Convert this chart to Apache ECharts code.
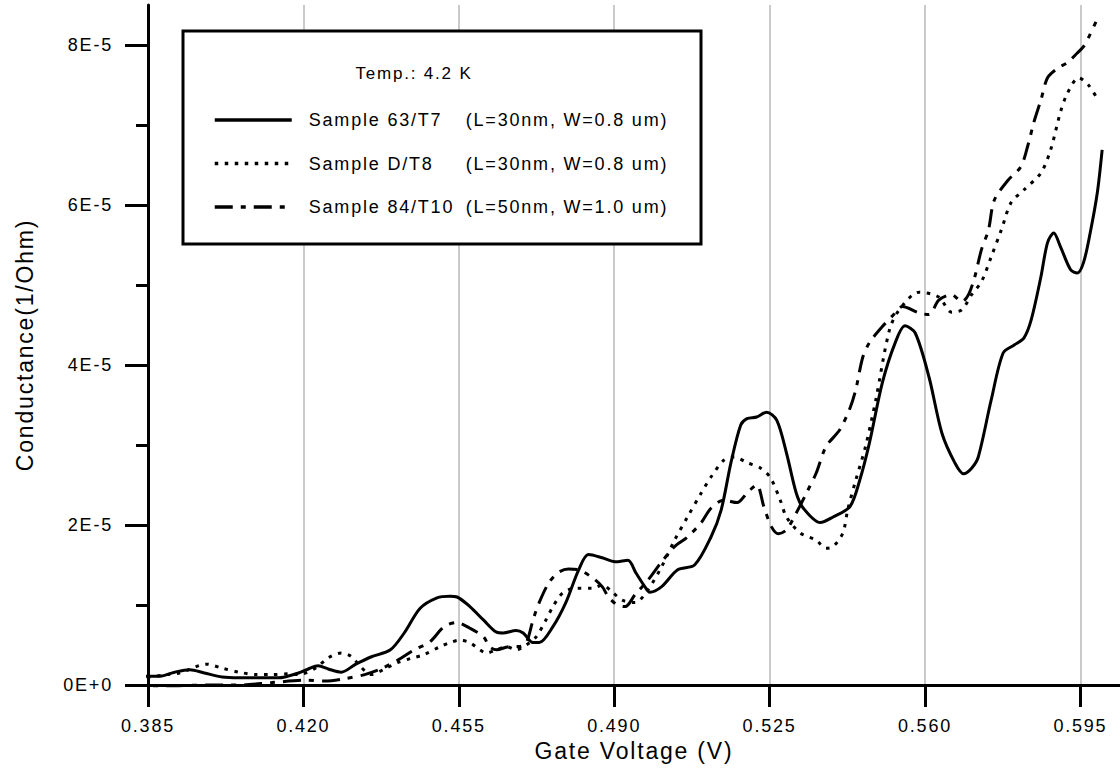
<!DOCTYPE html>
<html>
<head>
<meta charset="utf-8">
<script src="https://cdn.jsdelivr.net/npm/echarts@6/dist/echarts.min.js"></script>
<style>
html,body{margin:0;padding:0;background:#fff}
#chart{width:1120px;height:774px}
#chart text{letter-spacing:1.8px}
</style>
</head>
<body>
<div id="chart"></div>
<script>
// gate voltage (V) , conductance (in units of 1E-5 1/Ohm)
const sample63 = [[0.3803,0.11],[0.3850,0.11],[0.3877,0.11],[0.3910,0.16],[0.3944,0.19],[0.3977,0.15],[0.4017,0.10],[0.4055,0.09],[0.4093,0.09],[0.4144,0.09],[0.4189,0.15],[0.4211,0.20],[0.4233,0.24],[0.4256,0.20],[0.4285,0.16],[0.4318,0.26],[0.4352,0.35],[0.4396,0.44],[0.4427,0.65],[0.4463,0.96],[0.4501,1.09],[0.4530,1.11],[0.4546,1.10],[0.4575,0.98],[0.4606,0.81],[0.4635,0.66],[0.4650,0.65],[0.4679,0.68],[0.4695,0.65],[0.4717,0.53],[0.4731,0.53],[0.4762,0.73],[0.4791,1.03],[0.4820,1.44],[0.4842,1.63],[0.4873,1.59],[0.4902,1.54],[0.4931,1.56],[0.4949,1.40],[0.4969,1.23],[0.4980,1.16],[0.5007,1.23],[0.5043,1.44],[0.5081,1.50],[0.5118,1.85],[0.5141,2.19],[0.5163,2.78],[0.5185,3.25],[0.5199,3.33],[0.5221,3.35],[0.5243,3.41],[0.5266,3.31],[0.5288,2.90],[0.5310,2.40],[0.5326,2.21],[0.5364,2.03],[0.5393,2.10],[0.5431,2.23],[0.5453,2.56],[0.5475,3.03],[0.5504,3.78],[0.5533,4.28],[0.5555,4.49],[0.5578,4.40],[0.5609,3.85],[0.5638,3.15],[0.5667,2.78],[0.5687,2.64],[0.5705,2.71],[0.5720,2.85],[0.5749,3.56],[0.5776,4.15],[0.5801,4.25],[0.5823,4.34],[0.5839,4.56],[0.5861,5.10],[0.5876,5.53],[0.5890,5.65],[0.5905,5.48],[0.5928,5.19],[0.5943,5.15],[0.5957,5.28],[0.5972,5.65],[0.5988,6.15],[0.5999,6.69]]
const sampleD8 = [[0.3803,0.11],[0.3832,0.09],[0.3892,0.13],[0.3921,0.15],[0.3982,0.26],[0.4017,0.21],[0.4055,0.16],[0.4093,0.13],[0.4129,0.13],[0.4167,0.14],[0.4189,0.13],[0.4227,0.21],[0.4256,0.34],[0.4285,0.40],[0.4307,0.36],[0.4327,0.24],[0.4352,0.13],[0.4383,0.20],[0.4412,0.28],[0.4441,0.33],[0.4472,0.38],[0.4508,0.48],[0.4530,0.53],[0.4552,0.56],[0.4575,0.53],[0.4597,0.44],[0.4612,0.40],[0.4635,0.44],[0.4657,0.48],[0.4679,0.44],[0.4702,0.50],[0.4724,0.60],[0.4746,0.81],[0.4762,0.98],[0.4784,1.15],[0.4813,1.21],[0.4851,1.21],[0.4873,1.25],[0.4896,1.16],[0.4918,1.06],[0.4947,1.03],[0.4976,1.19],[0.5007,1.48],[0.5036,1.81],[0.5065,2.10],[0.5096,2.40],[0.5118,2.60],[0.5147,2.81],[0.5170,2.85],[0.5199,2.78],[0.5230,2.71],[0.5252,2.59],[0.5274,2.31],[0.5288,2.10],[0.5319,1.90],[0.5355,1.81],[0.5377,1.71],[0.5393,1.73],[0.5415,1.90],[0.5426,2.19],[0.5444,2.56],[0.5466,2.98],[0.5489,3.56],[0.5520,4.44],[0.5542,4.69],[0.5587,4.91],[0.5631,4.85],[0.5660,4.66],[0.5683,4.69],[0.5705,4.88],[0.5727,5.04],[0.5749,5.35],[0.5772,5.69],[0.5794,6.03],[0.5823,6.19],[0.5861,6.40],[0.5883,6.69],[0.5905,7.16],[0.5921,7.40],[0.5946,7.59],[0.5968,7.50],[0.5990,7.31]]
const sample84 = [[0.3803,-0.01],[0.3906,-0.01],[0.3982,0],[0.4055,0],[0.4129,0.03],[0.4204,0.06],[0.4249,0.05],[0.4294,0.08],[0.4338,0.13],[0.4374,0.20],[0.4412,0.31],[0.4450,0.44],[0.4485,0.54],[0.4517,0.73],[0.4546,0.78],[0.4575,0.71],[0.4606,0.60],[0.4619,0.48],[0.4635,0.44],[0.4664,0.48],[0.4686,0.48],[0.4702,0.53],[0.4717,0.81],[0.4731,1.03],[0.4753,1.28],[0.4775,1.41],[0.4797,1.45],[0.4820,1.44],[0.4851,1.34],[0.4873,1.23],[0.4887,1.10],[0.4907,1.00],[0.4925,0.98],[0.4947,1.13],[0.4976,1.31],[0.5007,1.54],[0.5036,1.73],[0.5065,1.85],[0.5096,2.03],[0.5118,2.21],[0.5147,2.31],[0.5177,2.28],[0.5199,2.40],[0.5221,2.50],[0.5237,2.23],[0.5254,1.98],[0.5270,1.89],[0.5288,1.94],[0.5310,2.15],[0.5333,2.40],[0.5355,2.65],[0.5377,2.98],[0.5408,3.19],[0.5431,3.46],[0.5444,3.69],[0.5460,4.10],[0.5475,4.28],[0.5504,4.48],[0.5533,4.65],[0.5549,4.73],[0.5587,4.65],[0.5609,4.63],[0.5631,4.81],[0.5660,4.88],[0.5683,4.79],[0.5698,4.88],[0.5712,5.10],[0.5727,5.44],[0.5743,5.69],[0.5756,6.06],[0.5787,6.31],[0.5816,6.48],[0.5832,6.75],[0.5845,7.03],[0.5861,7.31],[0.5876,7.59],[0.5899,7.71],[0.5921,7.78],[0.5943,7.90],[0.5957,7.98],[0.5968,8.09],[0.5985,8.29]]

const sampleNames = ['Sample 63/T7', 'Sample D/T8', 'Sample 84/T10']
const sampleDims = ['(L=30nm, W=0.8 um)', '(L=30nm, W=0.8 um)', '(L=50nm, W=1.0 um)']
const xTicks = [0.385, 0.42, 0.455, 0.49, 0.525, 0.56, 0.595]
const yTicks = [0, 2, 4, 6, 8]
const yMinorTicks = [1, 3, 5, 7]

const FONT = 'Liberation Sans, Arial, sans-serif'
const chart = echarts.init(document.getElementById('chart'), null, {renderer: 'svg'})

const lineSeries = (name, data, lineType) => ({
    name: name,
    type: 'line',
    data: data,
    symbol: 'none',
    showSymbol: false,
    smooth: 0.3,
    clip: false,
    z: 2,
    itemStyle: {color: '#000'},
    lineStyle: {color: '#000', width: 3, type: lineType}
})

const option = {
    backgroundColor: '#fff',
    animation: false,
    textStyle: {fontFamily: FONT, color: '#000'},
    grid: {left: 148, right: -10, top: 5, bottom: 89},
    legend: {
        left: 208,
        top: 106,
        orient: 'vertical',
        itemWidth: 77,
        itemHeight: 14,
        itemGap: 25.5,
        selectedMode: false,
        z: 5,
        data: sampleNames,
        itemStyle: {opacity: 0},
        lineStyle: {width: 3.5, color: '#000'},
        formatter: name => {
            const i = sampleNames.indexOf(name)
            return '{g| }{a|' + name + '}{b|' + sampleDims[i] + '}'
        },
        textStyle: {
            fontFamily: FONT,
            fontSize: 18,
            color: '#000',
            rich: {
                g: {width: 12, fontSize: 18, lineHeight: 18},
                a: {width: 157, fontSize: 18, lineHeight: 18, fontFamily: FONT, color: '#000'},
                b: {fontSize: 18, lineHeight: 18, fontFamily: FONT, color: '#000'}
            }
        }
    },
    graphic: [
        {
            type: 'rect',
            z: 3,
            shape: {x: 183, y: 31, width: 518, height: 213},
            style: {fill: '#fff', stroke: '#000', lineWidth: 3}
        },
        {
            type: 'text',
            z: 5,
            x: 414,
            y: 73,
            style: {text: 'Temp.: 4.2 K', font: '17px ' + FONT, fill: '#000', align: 'center', verticalAlign: 'middle'}
        }
    ],
    xAxis: {
        type: 'value',
        min: 0.385,
        max: 0.60392,
        interval: 0.035,
        name: 'Gate Voltage (V)',
        nameLocation: 'middle',
        nameGap: 54,
        nameTextStyle: {fontSize: 23, fontFamily: FONT, color: '#000'},
        axisLine: {onZero: false, lineStyle: {color: '#000', width: 3}},
        axisTick: {customValues: xTicks, length: 22, lineStyle: {color: '#000', width: 3}},
        axisLabel: {
            customValues: xTicks,
            margin: 32,
            fontSize: 18,
            fontFamily: FONT,
            color: '#000',
            formatter: v => v.toFixed(3)
        },
        splitLine: {show: true, lineStyle: {color: '#b8b8b8', width: 1.5}}
    },
    yAxis: [
        {
            type: 'value',
            min: 0,
            max: 8.5,
            interval: 2,
            name: 'Conductance(1/Ohm)',
            nameLocation: 'middle',
            nameGap: 112,
            nameTextStyle: {fontSize: 23, fontFamily: FONT, color: '#000'},
            axisLine: {show: true, lineStyle: {color: '#000', width: 3}},
            axisTick: {show: true, customValues: yTicks, length: 23, lineStyle: {color: '#000', width: 3}},
            axisLabel: {
                customValues: yTicks,
                margin: 35,
                fontSize: 18,
                fontFamily: FONT,
                color: '#000',
                formatter: v => v === 0 ? '0E+0' : v + 'E-5'
            },
            splitLine: {show: false}
        },
        {
            type: 'value',
            min: 0,
            max: 8.5,
            position: 'left',
            axisLine: {show: false},
            axisTick: {show: true, customValues: yMinorTicks, length: 12, lineStyle: {color: '#000', width: 3}},
            axisLabel: {show: false},
            splitLine: {show: false}
        }
    ],
    series: [
        lineSeries(sampleNames[0], sample63, 'solid'),
        lineSeries(sampleNames[1], sampleD8, [3.5, 6.5]),
        lineSeries(sampleNames[2], sample84, [18, 8, 5, 8])
    ]
}

chart.setOption(option)
</script>
</body>
</html>
